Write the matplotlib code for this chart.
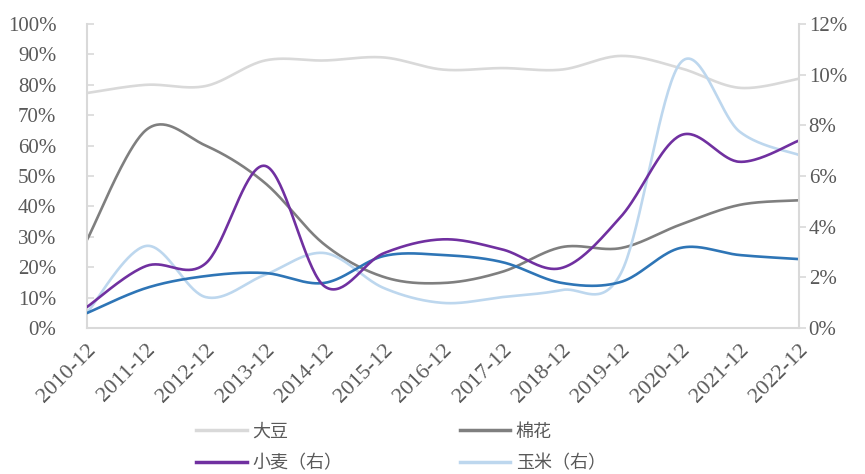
import numpy as np
import matplotlib
matplotlib.use("Agg")
import matplotlib.pyplot as plt
from matplotlib.lines import Line2D

plt.rcParams['font.family'] = ['Liberation Serif', 'Noto Sans CJK SC', 'DejaVu Sans']

categories = ["2010-12", "2011-12", "2012-12", "2013-12", "2014-12", "2015-12", "2016-12",
              "2017-12", "2018-12", "2019-12", "2020-12", "2021-12", "2022-12"]
# left axis (%)
soybean = [77.3, 80.0, 79.6, 88.0, 88.0, 89.0, 85.0, 85.5, 85.0, 89.5, 85.5, 79.0, 82.0]
cotton = [29.0, 65.2, 60.0, 47.7, 27.5, 16.8, 14.8, 18.5, 26.6, 26.3, 34.0, 40.5, 42.0]
# right axis (%)
wheat = [0.83, 2.45, 2.55, 6.4, 1.65, 2.95, 3.5, 3.1, 2.37, 4.4, 7.6, 6.56, 7.4]
corn = [0.6, 3.24, 1.22, 2.1, 2.96, 1.58, 0.99, 1.22, 1.5, 2.17, 10.46, 7.75, 6.83]
other = [0.59, 1.58, 2.05, 2.17, 1.78, 2.84, 2.88, 2.6, 1.78, 1.82, 3.16, 2.88, 2.72]

left_ticks = [0, 10, 20, 30, 40, 50, 60, 70, 80, 90, 100]
right_ticks = [0, 2, 4, 6, 8, 10, 12]


def smooth(y, n=40):
    """Excel-style smoothed line (cubic Bezier through the points)."""
    x = np.arange(len(y), dtype=float)
    y = np.asarray(y, dtype=float)
    P = np.column_stack([x, y])
    out = []
    for i in range(len(P) - 1):
        p0 = P[i - 1] if i > 0 else P[i]
        p1 = P[i]
        p2 = P[i + 1]
        p3 = P[i + 2] if i + 2 < len(P) else P[i + 1]
        c1 = p1 + (p2 - p0) / 6.0
        c2 = p2 - (p3 - p1) / 6.0
        t = np.linspace(0, 1, n)[:, None]
        seg = ((1 - t) ** 3) * p1 + 3 * ((1 - t) ** 2) * t * c1 + 3 * (1 - t) * t ** 2 * c2 + t ** 3 * p2
        out.append(seg if i == 0 else seg[1:])
    s = np.vstack(out)
    return s[:, 0], s[:, 1]


fig = plt.figure(figsize=(8.65, 4.74), dpi=100)
ax = fig.add_axes([87 / 865, 1 - 328 / 474, (799 - 87) / 865, (328 - 24) / 474])
ax2 = ax.twinx()

C_SOY = '#d9d9d9'
C_COT = '#7f7f7f'
C_WHT = '#7030a0'
C_CRN = '#bdd7ee'
C_OTH = '#2e75b6'
LW = 1.9

ax.plot(*smooth(soybean), color=C_SOY, lw=LW, solid_capstyle='round')
ax.plot(*smooth(cotton), color=C_COT, lw=LW, solid_capstyle='round')
ax2.plot(*smooth(corn), color=C_CRN, lw=LW, solid_capstyle='round')
ax2.plot(*smooth(other), color=C_OTH, lw=LW, solid_capstyle='round')
ax2.plot(*smooth(wheat), color=C_WHT, lw=LW, solid_capstyle='round')

ax.set_xlim(0, len(categories) - 1)
ax.set_ylim(0, 100)
ax2.set_ylim(0, 12)

ax.set_yticks(left_ticks)
ax.set_yticklabels([f"{v}%" for v in left_ticks])
ax2.set_yticks(right_ticks)
ax2.set_yticklabels([f"{v}%" for v in right_ticks])

ax.set_xticks(range(len(categories)))
ax.set_xticklabels(categories, rotation=45, ha='right', rotation_mode='anchor')

tick_color = '#595959'
spine_color = '#d9d9d9'
for a in (ax, ax2):
    for s in a.spines.values():
        s.set_visible(False)
ax.spines['left'].set_visible(True)
ax.spines['bottom'].set_visible(True)
ax2.spines['right'].set_visible(True)
for s in (ax.spines['left'], ax.spines['bottom'], ax2.spines['right']):
    s.set_color(spine_color)
    s.set_linewidth(1.5)

ax.tick_params(axis='y', direction='in', length=5, width=1.2, color=spine_color,
               labelcolor=tick_color, labelsize=15, pad=22)
ax.tick_params(axis='x', length=0, labelcolor=tick_color, labelsize=16, pad=9)
ax2.tick_params(axis='y', direction='out', length=5, width=1.2, color=spine_color,
                labelcolor=tick_color, labelsize=15, pad=2)

handles = [Line2D([], [], color=C_SOY, lw=2.5),
           Line2D([], [], color=C_WHT, lw=2.5),
           Line2D([], [], color=C_COT, lw=2.5),
           Line2D([], [], color=C_CRN, lw=2.5)]
labels = ['大豆', '小麦（右）', '棉花', '玉米（右）']
leg = fig.legend(handles, labels, ncol=2, loc='center', bbox_to_anchor=(0.4636, 0.056),
                 frameon=False, prop={'family': ['Noto Sans CJK SC', 'DejaVu Sans'], 'size': 13},
                 handlelength=2.8, handletextpad=0.3, columnspacing=6.5, labelspacing=0.74)
for t in leg.get_texts():
    t.set_color(tick_color)

fig.savefig('out.png', dpi=100)
